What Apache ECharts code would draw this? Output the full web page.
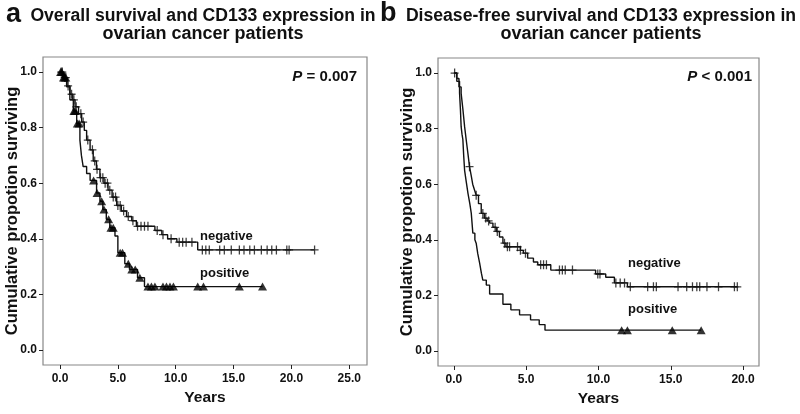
<!DOCTYPE html>
<html>
<head>
<meta charset="utf-8">
<script src="https://cdn.jsdelivr.net/npm/echarts@6/dist/echarts.min.js"></script>
<style>html,body{margin:0;padding:0;background:#fff}#c{width:800px;height:414px}</style>
</head>
<body>
<div id="c"></div>
<script>
// Panel a: overall survival
const aNegTimes = [0, 0.3, 0.6, 0.86, 1.1, 1.3, 1.6, 1.87, 2.1, 2.3, 2.6, 2.87, 3.15, 3.45, 3.8, 4.15, 4.5, 4.9, 5.3, 5.75, 6.2, 6.6, 8.2, 8.8, 9.3, 10.1, 11.9];
const aNegSurv  = [1.0, 0.98, 0.95, 0.92, 0.90, 0.875, 0.85, 0.82, 0.79, 0.755, 0.72, 0.68, 0.65, 0.62, 0.60, 0.575, 0.55, 0.52, 0.50, 0.48, 0.465, 0.445, 0.43, 0.415, 0.40, 0.388, 0.36];
const aNegEnd = 22.0;
const aNegCens = [0.1, 0.2, 0.4, 0.5, 0.7, 1.0, 1.2, 1.4, 1.8, 2.0, 2.4, 2.8, 3.0, 3.2, 3.5, 3.7, 3.9, 4.1, 4.3, 4.6, 4.8, 5.0, 5.2, 5.5, 5.9, 6.3, 6.7, 7.0, 7.3, 7.6, 8.4, 8.9, 9.6, 10.3, 10.6, 10.9, 11.4, 12.3, 12.6, 12.9, 13.8, 14.2, 14.8, 15.5, 15.9, 16.4, 16.8, 17.4, 17.9, 18.3, 18.7, 19.6, 19.8, 22.0];

const aPosTimes = [0, 0.2, 0.57, 0.85, 1.15, 1.44, 1.72, 1.85, 2.0, 2.3, 2.6, 3.16, 3.45, 3.7, 4.0, 4.3, 4.75, 5.0, 5.6, 6.0, 6.7, 7.3];
const aPosSurv  = [1.0, 0.98, 0.947, 0.90, 0.86, 0.815, 0.755, 0.70, 0.66, 0.635, 0.61, 0.565, 0.535, 0.505, 0.47, 0.44, 0.41, 0.35, 0.31, 0.29, 0.26, 0.228];
const aPosEnd = 17.5;
const aPosCens = [0.05, 0.15, 0.3, 0.4, 0.5, 1.2, 1.3, 1.5, 1.65, 2.9, 3.2, 3.6, 3.8, 4.2, 4.4, 4.6, 5.2, 5.4, 5.9, 6.2, 6.5, 6.9, 7.6, 7.9, 8.2, 8.9, 9.2, 9.5, 9.8, 11.9, 12.4, 15.5, 17.5];

// Panel b: disease-free survival
const bNegTimes = [0, 0.2, 0.35, 0.5, 0.62, 0.74, 0.85, 0.97, 1.08, 1.2, 1.3, 1.42, 1.54, 1.7, 1.89, 2.1, 2.3, 2.47, 2.7, 2.93, 3.15, 3.39, 3.6, 4.6, 4.8, 5.1, 5.5, 5.8, 6.7, 9.8, 10.5, 11.1, 12.0];
const bNegSurv  = [1.0, 0.98, 0.95, 0.927, 0.87, 0.807, 0.76, 0.71, 0.663, 0.63, 0.60, 0.58, 0.56, 0.53, 0.495, 0.478, 0.468, 0.46, 0.445, 0.43, 0.41, 0.388, 0.375, 0.362, 0.352, 0.334, 0.32, 0.31, 0.291, 0.277, 0.265, 0.245, 0.231];
const bNegEnd = 19.6;
const bNegCens = [0.05, 1.08, 1.54, 2.0, 2.2, 2.4, 2.85, 3.0, 3.5, 3.7, 3.85, 4.4, 4.6, 4.95, 6.0, 6.2, 6.4, 7.3, 7.5, 7.7, 8.2, 9.95, 10.1, 11.2, 11.5, 11.8, 12.2, 13.4, 13.8, 14.0, 15.5, 16.1, 16.5, 16.8, 17.0, 17.5, 18.3, 19.4, 19.6];

const bPosTimes = [0, 0.2, 0.39, 0.45, 0.5, 0.56, 0.62, 0.68, 0.74, 0.85, 0.97, 1.1, 1.2, 1.31, 1.45, 1.54, 1.65, 1.78, 1.9, 2.0, 2.24, 2.47, 3.39, 3.94, 4.54, 5.3, 5.9, 6.3];
const bPosSurv  = [1.0, 0.97, 0.928, 0.87, 0.807, 0.78, 0.76, 0.70, 0.65, 0.61, 0.568, 0.53, 0.496, 0.424, 0.40, 0.388, 0.35, 0.316, 0.28, 0.255, 0.237, 0.205, 0.168, 0.148, 0.13, 0.112, 0.095, 0.075];
const bPosEnd = 17.1;
const bPosCens = [11.6, 12.0, 15.1, 17.1];

const xTicksA = [0, 5, 10, 15, 20, 25];
const xTicksB = [0, 5, 10, 15, 20];
const yTicks = [0, 0.2, 0.4, 0.6, 0.8, 1.0];

function survAt(times, surv, t) {
  let s = surv[0];
  for (let i = 0; i < times.length; i++) if (times[i] <= t) s = surv[i];
  return s;
}
function stepData(times, surv, end) {
  const d = times.map((t, i) => [t, surv[i]]);
  d.push([end, surv[surv.length - 1]]);
  return d;
}
function censData(times, surv, cens) {
  return cens.map(t => [t, survAt(times, surv, t)]);
}

const FONT = 'Liberation Sans, Arial, sans-serif';
const plusPath = 'path://M4.2,0H5.8V4.3H10V5.7H5.8V10H4.2V5.7H0V4.3H4.2Z';

function xAxis(gi, min, max, ticks) {
  return {
    type: 'value', gridIndex: gi, min: min, max: max, position: 'bottom',
    name: 'Years', nameLocation: 'middle', nameGap: 25,
    nameTextStyle: { fontFamily: FONT, fontWeight: 'bold', fontSize: 15.5, color: '#111' },
    axisLine: { show: false, onZero: false },
    axisTick: { show: true, length: 4, customValues: ticks, lineStyle: { color: '#222' } },
    axisLabel: { customValues: ticks, formatter: v => v.toFixed(1), fontFamily: FONT, fontWeight: 'bold', fontSize: 12, color: '#111', margin: 8 },
    splitLine: { show: false }
  };
}
function yAxis(gi) {
  return {
    type: 'value', gridIndex: gi, min: -0.054, max: 1.054, position: 'left',
    axisLine: { show: false, onZero: false },
    axisTick: { show: true, length: 4, customValues: yTicks, lineStyle: { color: '#222' } },
    axisLabel: { customValues: yTicks, formatter: v => v.toFixed(1), fontFamily: FONT, fontWeight: 'bold', fontSize: 12, color: '#111', margin: 6 },
    splitLine: { show: false }
  };
}
function lineS(xi, data) {
  return { type: 'line', xAxisIndex: xi, yAxisIndex: xi, data: data, step: 'end', showSymbol: false, symbol: 'none',
    lineStyle: { color: '#111', width: 1.4 }, silent: true, z: 3 };
}
function plusS(xi, data) {
  return { type: 'scatter', xAxisIndex: xi, yAxisIndex: xi, data: data, symbol: plusPath, symbolSize: [8, 9],
    itemStyle: { color: '#111' }, silent: true, z: 4 };
}
function triS(xi, data) {
  return { type: 'scatter', xAxisIndex: xi, yAxisIndex: xi, data: data, symbol: 'triangle', symbolSize: [9, 8],
    itemStyle: { color: '#000' }, silent: true, z: 4 };
}

const chart = echarts.init(document.getElementById('c'), null, { renderer: 'canvas' });
const txt = (x, y, text, size, align, extra) => Object.assign({
  type: 'text', x: x, y: y,
  style: { text: text, fontFamily: FONT, fontWeight: 'bold', fontSize: size, fill: '#111', align: align || 'left', verticalAlign: 'middle' }
}, extra || {});

chart.setOption({
  animation: false,
  backgroundColor: '#fff',
  grid: [
    { left: 43, top: 57, width: 324, height: 308, outerBoundsMode: 'none', containLabel: false, show: true, borderColor: '#888', borderWidth: 1.2, backgroundColor: '#fff' },
    { left: 438, top: 58, width: 321, height: 308, outerBoundsMode: 'none', containLabel: false, show: true, borderColor: '#888', borderWidth: 1.2, backgroundColor: '#fff' }
  ],
  xAxis: [xAxis(0, -1.47, 26.53, xTicksA), xAxis(1, -1.1, 21.1, xTicksB)],
  yAxis: [yAxis(0), yAxis(1)],
  series: [
    lineS(0, stepData(aNegTimes, aNegSurv, aNegEnd)),
    lineS(0, stepData(aPosTimes, aPosSurv, aPosEnd)),
    plusS(0, censData(aNegTimes, aNegSurv, aNegCens)),
    triS(0, censData(aPosTimes, aPosSurv, aPosCens)),
    lineS(1, stepData(bNegTimes, bNegSurv, bNegEnd)),
    lineS(1, stepData(bPosTimes, bPosSurv, bPosEnd)),
    plusS(1, censData(bNegTimes, bNegSurv, bNegCens)),
    triS(1, censData(bPosTimes, bPosSurv, bPosCens))
  ],
  graphic: [
    txt(6, 15, 'a', 27, 'left'),
    txt(203, 16, 'Overall survival and CD133 expression in', 17.6, 'center'),
    txt(203, 34, 'ovarian cancer patients', 18, 'center'),
    txt(380, 14, 'b', 27, 'left'),
    txt(601, 16, 'Disease-free survival and CD133 expression in', 17.6, 'center'),
    txt(601, 34, 'ovarian cancer patients', 18, 'center'),
    txt(12, 211, 'Cumulative propotion surviving', 16.5, 'center', { rotation: Math.PI / 2 }),
    txt(407, 212, 'Cumulative propotion surviving', 16.5, 'center', { rotation: Math.PI / 2 }),
    { type: 'text', x: 357, y: 77, style: { text: '{i|P} = 0.007', align: 'right', verticalAlign: 'middle', fontFamily: FONT, fontWeight: 'bold', fontSize: 15, fill: '#111', rich: { i: { fontStyle: 'italic', fontWeight: 'bold', fontFamily: FONT, fontSize: 15, fill: '#111' } } } },
    { type: 'text', x: 752, y: 77, style: { text: '{i|P} < 0.001', align: 'right', verticalAlign: 'middle', fontFamily: FONT, fontWeight: 'bold', fontSize: 15, fill: '#111', rich: { i: { fontStyle: 'italic', fontWeight: 'bold', fontFamily: FONT, fontSize: 15, fill: '#111' } } } },
    txt(200, 236, 'negative', 13, 'left'),
    txt(200, 273, 'positive', 13, 'left'),
    txt(628, 263, 'negative', 13, 'left'),
    txt(628, 309, 'positive', 13, 'left')
  ]
});
</script>
</body>
</html>
